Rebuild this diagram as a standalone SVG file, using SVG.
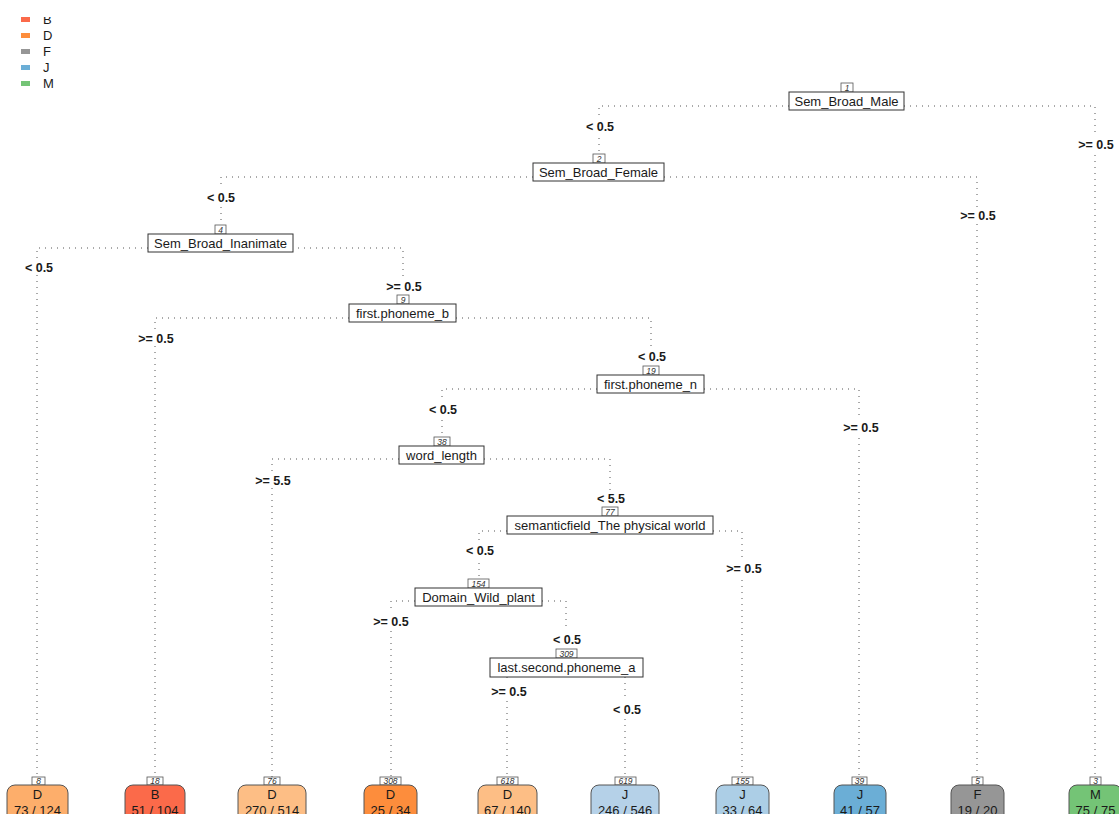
<svg xmlns="http://www.w3.org/2000/svg" width="1119" height="814" viewBox="0 0 1119 814">
<style>
text{font-family:"Liberation Sans",Arial,sans-serif;fill:#1a1a1a}
.lg{font-size:13px}
.nb{fill:#fff;stroke:#333;stroke-width:1}
.nt{font-size:13px;text-anchor:middle}
.num{fill:#fff;stroke:#555;stroke-width:0.8}
.nn{font-size:8.5px;font-style:italic;text-anchor:middle;fill:#333}
.sl{font-size:12.5px;font-weight:bold;text-anchor:middle}
.lbg{fill:#fff}
.cn{fill:none;stroke:#555;stroke-width:1;stroke-dasharray:1 5}
.lf{stroke:#555;stroke-width:1}
.lt{font-size:13px;text-anchor:middle}
</style>
<defs>
<clipPath id="lgclip"><rect x="0" y="17" width="120" height="80"/></clipPath>
</defs>
<g id="legend">
<rect x="21" y="17" width="9" height="5" fill="#FB6A4A"/>
<rect x="21" y="33" width="9" height="5" fill="#FD8D3C"/>
<rect x="21" y="49" width="9" height="5" fill="#969696"/>
<rect x="21" y="65" width="9" height="5" fill="#6BAED6"/>
<rect x="21" y="81" width="9" height="5" fill="#74C476"/>
<text class="lg" x="43" y="24" clip-path="url(#lgclip)">B</text>
<text class="lg" x="43" y="40">D</text>
<text class="lg" x="43" y="56">F</text>
<text class="lg" x="43" y="72">J</text>
<text class="lg" x="43" y="88">M</text>
</g>
<g id="connectors">
<path class="cn" d="M789 106 H599 V154"/>
<path class="cn" d="M904 106 H1095 V777"/>
<path class="cn" d="M533 177 H221 V225"/>
<path class="cn" d="M664 177 H977 V777"/>
<path class="cn" d="M148 248 H37 V777"/>
<path class="cn" d="M292 248 H403 V295"/>
<path class="cn" d="M349 318 H155 V777"/>
<path class="cn" d="M456 318 H651 V366"/>
<path class="cn" d="M597 389 H442 V437"/>
<path class="cn" d="M704 389 H859 V777"/>
<path class="cn" d="M399 459 H272 V777"/>
<path class="cn" d="M484 459 H610 V507"/>
<path class="cn" d="M507 531 H479 V579"/>
<path class="cn" d="M713 531 H742 V777"/>
<path class="cn" d="M415 601 H391 V777"/>
<path class="cn" d="M542 601 H566 V649"/>
<path class="cn" d="M507 677 V777"/>
<path class="cn" d="M625 677 V777"/>
</g>
<g id="split-labels">
<rect class="lbg" x="584" y="118" width="32" height="16"/><text class="sl" x="600" y="130.5">&lt; 0.5</text>
<rect class="lbg" x="1076" y="136" width="40" height="16"/><text class="sl" x="1096" y="148.5">&gt;= 0.5</text>
<rect class="lbg" x="205" y="189" width="32" height="16"/><text class="sl" x="221" y="201.5">&lt; 0.5</text>
<rect class="lbg" x="958" y="207" width="40" height="16"/><text class="sl" x="978" y="219.5">&gt;= 0.5</text>
<rect class="lbg" x="23" y="259" width="32" height="16"/><text class="sl" x="39" y="271.5">&lt; 0.5</text>
<rect class="lbg" x="384" y="278" width="40" height="16"/><text class="sl" x="404" y="290.5">&gt;= 0.5</text>
<rect class="lbg" x="136" y="330" width="40" height="16"/><text class="sl" x="156" y="342.5">&gt;= 0.5</text>
<rect class="lbg" x="636" y="348" width="32" height="16"/><text class="sl" x="652" y="360.5">&lt; 0.5</text>
<rect class="lbg" x="427" y="401" width="32" height="16"/><text class="sl" x="443" y="413.5">&lt; 0.5</text>
<rect class="lbg" x="841" y="419" width="40" height="16"/><text class="sl" x="861" y="431.5">&gt;= 0.5</text>
<rect class="lbg" x="253" y="472" width="40" height="16"/><text class="sl" x="273" y="484.5">&gt;= 5.5</text>
<rect class="lbg" x="595" y="490" width="32" height="16"/><text class="sl" x="611" y="502.5">&lt; 5.5</text>
<rect class="lbg" x="464" y="542" width="32" height="16"/><text class="sl" x="480" y="554.5">&lt; 0.5</text>
<rect class="lbg" x="724" y="560" width="40" height="16"/><text class="sl" x="744" y="572.5">&gt;= 0.5</text>
<rect class="lbg" x="371" y="613" width="40" height="16"/><text class="sl" x="391" y="625.5">&gt;= 0.5</text>
<rect class="lbg" x="551" y="631" width="32" height="16"/><text class="sl" x="567" y="643.5">&lt; 0.5</text>
<rect class="lbg" x="489" y="683" width="40" height="16"/><text class="sl" x="509" y="695.5">&gt;= 0.5</text>
<rect class="lbg" x="611" y="701" width="32" height="16"/><text class="sl" x="627" y="713.5">&lt; 0.5</text>
</g>
<g id="node1">
<rect class="num" x="841" y="83" width="12" height="9"/><text class="nn" x="847" y="90.5">1</text>
<rect class="nb" x="789" y="92" width="115" height="18"/><text class="nt" x="846.5" y="105.5">Sem_Broad_Male</text>
</g>
<g id="node2">
<rect class="num" x="593" y="154" width="12" height="9"/><text class="nn" x="599" y="161.5">2</text>
<rect class="nb" x="533" y="163" width="131" height="18"/><text class="nt" x="598.5" y="176.5">Sem_Broad_Female</text>
</g>
<g id="node4">
<rect class="num" x="215" y="225" width="11" height="9"/><text class="nn" x="220.5" y="232.5">4</text>
<rect class="nb" x="148" y="234" width="145" height="18"/><text class="nt" x="220.5" y="247.5">Sem_Broad_Inanimate</text>
</g>
<g id="node9">
<rect class="num" x="397" y="295" width="12" height="9"/><text class="nn" x="403" y="302.5">9</text>
<rect class="nb" x="349" y="304" width="107" height="18"/><text class="nt" x="402.5" y="317.5">first.phoneme_b</text>
</g>
<g id="node19">
<rect class="num" x="643" y="366" width="16" height="9"/><text class="nn" x="651" y="373.5">19</text>
<rect class="nb" x="597" y="375" width="107" height="18"/><text class="nt" x="650.5" y="388.5">first.phoneme_n</text>
</g>
<g id="node38">
<rect class="num" x="434" y="437" width="16" height="9"/><text class="nn" x="442" y="444.5">38</text>
<rect class="nb" x="399" y="446" width="85" height="18"/><text class="nt" x="441.5" y="459.5">word_length</text>
</g>
<g id="node77">
<rect class="num" x="602" y="507" width="16" height="9"/><text class="nn" x="610" y="514.5">77</text>
<rect class="nb" x="507" y="516" width="206" height="18"/><text class="nt" x="610" y="529.5">semanticfield_The physical world</text>
</g>
<g id="node154">
<rect class="num" x="468" y="579" width="21" height="9"/><text class="nn" x="478.5" y="586.5">154</text>
<rect class="nb" x="415" y="588" width="127" height="18"/><text class="nt" x="478.5" y="601.5">Domain_Wild_plant</text>
</g>
<g id="node309">
<rect class="num" x="556" y="649" width="21" height="9"/><text class="nn" x="566.5" y="656.5">309</text>
<rect class="nb" x="490" y="658" width="153" height="19"/><text class="nt" x="566.5" y="672">last.second.phoneme_a</text>
</g>
<g id="leaf8">
<rect class="num" x="32" y="777" width="13" height="8"/><text class="nn" x="38.5" y="784">8</text>
<rect class="lf" x="7" y="785" width="61" height="45" rx="8" fill="#FDAE6B"/>
<text class="lt" x="37.5" y="799">D</text><text class="lt" x="37.5" y="815">73 / 124</text>
</g>
<g id="leaf18">
<rect class="num" x="147" y="777" width="16" height="8"/><text class="nn" x="155" y="784">18</text>
<rect class="lf" x="125" y="785" width="60" height="45" rx="8" fill="#FB6A4A"/>
<text class="lt" x="155" y="799">B</text><text class="lt" x="155" y="815">51 / 104</text>
</g>
<g id="leaf76">
<rect class="num" x="264" y="777" width="16" height="8"/><text class="nn" x="272" y="784">76</text>
<rect class="lf" x="238" y="785" width="68" height="45" rx="8" fill="#FDBE85"/>
<text class="lt" x="272" y="799">D</text><text class="lt" x="272" y="815">270 / 514</text>
</g>
<g id="leaf308">
<rect class="num" x="380" y="777" width="21" height="8"/><text class="nn" x="390.5" y="784">308</text>
<rect class="lf" x="364" y="785" width="53" height="45" rx="8" fill="#FD8D3C"/>
<text class="lt" x="390.5" y="799">D</text><text class="lt" x="390.5" y="815">25 / 34</text>
</g>
<g id="leaf618">
<rect class="num" x="497" y="777" width="21" height="8"/><text class="nn" x="507.5" y="784">618</text>
<rect class="lf" x="478" y="785" width="59" height="45" rx="8" fill="#FDBE85"/>
<text class="lt" x="507.5" y="799">D</text><text class="lt" x="507.5" y="815">67 / 140</text>
</g>
<g id="leaf619">
<rect class="num" x="615" y="777" width="21" height="8"/><text class="nn" x="625.5" y="784">619</text>
<rect class="lf" x="591" y="785" width="68" height="45" rx="8" fill="#B5D1E8"/>
<text class="lt" x="625" y="799">J</text><text class="lt" x="625" y="815">246 / 546</text>
</g>
<g id="leaf155">
<rect class="num" x="732" y="777" width="21" height="8"/><text class="nn" x="742.5" y="784">155</text>
<rect class="lf" x="716" y="785" width="53" height="45" rx="8" fill="#ACCEE6"/>
<text class="lt" x="742.5" y="799">J</text><text class="lt" x="742.5" y="815">33 / 64</text>
</g>
<g id="leaf39">
<rect class="num" x="852" y="777" width="15" height="8"/><text class="nn" x="859.5" y="784">39</text>
<rect class="lf" x="834" y="785" width="52" height="45" rx="8" fill="#6BAED6"/>
<text class="lt" x="860" y="799">J</text><text class="lt" x="860" y="815">41 / 57</text>
</g>
<g id="leaf5">
<rect class="num" x="972" y="777" width="11" height="8"/><text class="nn" x="977.5" y="784">5</text>
<rect class="lf" x="951" y="785" width="53" height="45" rx="8" fill="#969696"/>
<text class="lt" x="977.5" y="799">F</text><text class="lt" x="977.5" y="815">19 / 20</text>
</g>
<g id="leaf3">
<rect class="num" x="1090" y="777" width="11" height="8"/><text class="nn" x="1095.5" y="784">3</text>
<rect class="lf" x="1069" y="785" width="53" height="45" rx="8" fill="#74C476"/>
<text class="lt" x="1095.5" y="799">M</text><text class="lt" x="1095.5" y="815">75 / 75</text>
</g>
</svg>
